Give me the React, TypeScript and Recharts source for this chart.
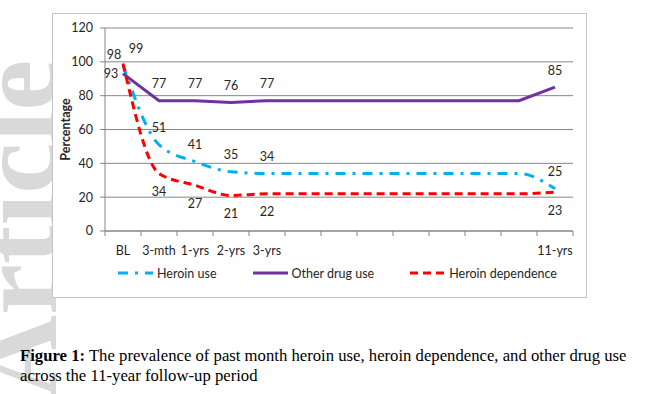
import React from "react";
import { LineChart, Line, XAxis, YAxis, CartesianGrid, LabelList } from "recharts";

const categories = ["BL", "3-mth", "1-yrs", "2-yrs", "3-yrs", "", "", "", "", "", "", "", "11-yrs"];
const heroinUse = [98, 51, 41, 35, 34, 34, 34, 34, 34, 34, 34, 34, 25];
const otherDrugUse = [93, 77, 77, 76, 77, 77, 77, 77, 77, 77, 77, 77, 85];
const heroinDependence = [99, 34, 27, 21, 22, 22, 22, 22, 22, 22, 22, 22, 23];
const yTicks = [0, 20, 40, 60, 80, 100, 120];

const data = categories.map((label, i) => ({
  slot: `c${i}`,
  label,
  heroinUse: heroinUse[i],
  otherDrugUse: otherDrugUse[i],
  heroinDependence: heroinDependence[i],
}));

const FONT = "Lato, 'Open Sans', sans-serif";
const FS = 12.5;
const AXIS = "#868686";
const TEXT = "#262626";

const series = [
  { key: "heroinUse", name: "Heroin use", color: "#00B0F0", dash: "10 7 3 7", type: "monotone" },
  { key: "otherDrugUse", name: "Other drug use", color: "#7030A0", dash: undefined, type: "linear" },
  { key: "heroinDependence", name: "Heroin dependence", color: "#FF0000", dash: "8 5", type: "monotone" },
];

// label offsets from the point: [dx, dy] for the first point, then the rest
const labelPlacement: Record<string, { first: [number, number]; rest: [number, number] }> = {
  heroinUse: { first: [-9, -11], rest: [0, -17] },
  otherDrugUse: { first: [-12, 0], rest: [0, -17] },
  heroinDependence: { first: [13, -15], rest: [0, 18] },
};

const makeLabel = (key: string) => (props: any) => {
  const { x, y, value, index } = props;
  if (!categories[index]) return null;
  const [dx, dy] = index === 0 ? labelPlacement[key].first : labelPlacement[key].rest;
  return (
    <text
      x={x + dx}
      y={y + dy}
      textAnchor="middle"
      dominantBaseline="central"
      fontSize={FS}
      fontFamily={FONT}
      fill={TEXT}
    >
      {value}
    </text>
  );
};

const CategoryTick = (props: any) => {
  const { x, y, payload } = props;
  const i = data.findIndex((d) => d.slot === payload.value);
  const half = payload.offset || 0;
  const isLast = i === categories.length - 1;
  return (
    <g>
      <line x1={x - half} x2={x - half} y1={y} y2={y + 5} stroke={AXIS} />
      {isLast && <line x1={x + half} x2={x + half} y1={y} y2={y + 5} stroke={AXIS} />}
      <text x={x} y={y + 19} textAnchor="middle" dominantBaseline="central" fontSize={FS} fontFamily={FONT} fill={TEXT}>
        {categories[i]}
      </text>
    </g>
  );
};

export default function App() {
  return (
    <div style={{ position: "absolute", left: 0, top: 0, width: 645, height: 394, background: "#fff", overflow: "hidden" }}>
      <div
        style={{
          position: "absolute",
          left: 0,
          top: 0,
          transformOrigin: "0 0",
          transform: "translate(-40px, 398px) rotate(-90deg)",
          fontFamily: "'Liberation Serif', serif",
          fontWeight: "bold",
          fontSize: 115,
          lineHeight: 1,
          color: "#d9d9d9",
          whiteSpace: "nowrap",
        }}
      >
        Article
      </div>
      <div
        style={{
          position: "absolute",
          left: 52,
          top: 13,
          width: 533,
          height: 283,
          border: "1.5px solid #c4c4c4",
          background: "#fff",
        }}
      />
      <div style={{ position: "absolute", left: 0, top: 0 }}>
        <LineChart width={645} height={394} data={data} margin={{ top: 28, right: 72, left: 0, bottom: 133 }}>
          <CartesianGrid vertical={false} stroke={AXIS} />
          <XAxis
            dataKey="slot"
            scale="band"
            interval={0}
            height={30}
            tickSize={0}
            tickMargin={0}
            tickLine={false}
            axisLine={{ stroke: AXIS }}
            tick={<CategoryTick />}
          />
          <YAxis
            width={105}
            domain={[0, 120]}
            ticks={yTicks}
            tickSize={5}
            tickMargin={7}
            tickLine={{ stroke: AXIS }}
            axisLine={{ stroke: AXIS }}
            tick={{ fontSize: FS, fontFamily: FONT, fill: TEXT }}
          />
          {series.map((s) => (
            <Line
              key={s.key}
              type={s.type as any}
              dataKey={s.key}
              name={s.name}
              stroke={s.color}
              strokeWidth={3}
              strokeDasharray={s.dash}
              dot={false}
              activeDot={false}
              isAnimationActive={false}
            >
              <LabelList dataKey={s.key} content={makeLabel(s.key)} />
            </Line>
          ))}
        </LineChart>
      </div>
      <div
        style={{
          position: "absolute",
          left: 58,
          top: 99,
          width: 14,
          height: 60,
          display: "flex",
          alignItems: "center",
          justifyContent: "center",
        }}
      >
        <div
          style={{
            transform: "rotate(-90deg)",
            fontFamily: FONT,
            fontWeight: "bold",
            fontSize: FS,
            color: TEXT,
            whiteSpace: "nowrap",
          }}
        >
          Percentage
        </div>
      </div>
      <div
        style={{
          position: "absolute",
          left: 118,
          top: 265,
          display: "flex",
          alignItems: "center",
          gap: 36,
          fontFamily: FONT,
          fontSize: FS,
          color: TEXT,
        }}
      >
        {series.map((s) => (
          <div key={s.key} style={{ display: "flex", alignItems: "center", gap: 4 }}>
            <svg width={35} height={16}>
              <line x1={0} x2={35} y1={8} y2={8} stroke={s.color} strokeWidth={3} strokeDasharray={s.dash} />
            </svg>
            <span>{s.name}</span>
          </div>
        ))}
      </div>
      <div
        style={{
          position: "absolute",
          left: 20,
          top: 346,
          fontFamily: "'Liberation Serif', 'Times New Roman', serif",
          fontSize: 16.7,
          lineHeight: "20px",
          color: "#000",
          whiteSpace: "nowrap",
        }}
      >
        <b>Figure 1:</b> The prevalence of past month heroin use, heroin dependence, and other drug use
        <br />
        across the 11-year follow-up period
      </div>
    </div>
  );
}
